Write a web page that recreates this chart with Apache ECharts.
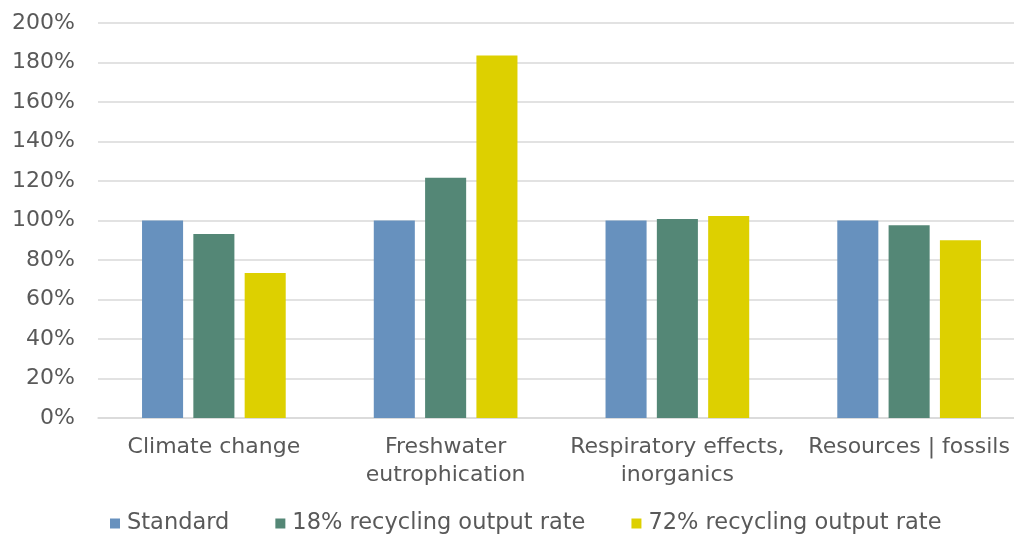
<!DOCTYPE html>
<html>
<head>
<meta charset="utf-8">
<script src="https://cdn.jsdelivr.net/npm/echarts@6/dist/echarts.min.js"></script>
<style>
  html, body { margin: 0; padding: 0; background: #fff; }
  #chart { width: 1014px; height: 535px; }
</style>
</head>
<body>
<div id="chart"></div>
<script>
// Impact categories, relative to the standard scenario (in %)
const categories = ['Climate change', 'Freshwater\neutrophication', 'Respiratory effects,\ninorganics', 'Resources | fossils'];
const seriesNames = ['Standard', '18% recycling output rate', '72% recycling output rate'];
const standard = [100, 100, 100, 100];
const recycling18 = [93.2, 121.7, 100.8, 97.6];
const recycling72 = [73.4, 183.6, 102.3, 90.0];
const colors = ['#6791be', '#548776', '#ddd000'];

const font = '"DejaVu Sans", sans-serif';
const textColor = '#595959';

const chart = echarts.init(document.getElementById('chart'), null, { renderer: 'canvas' });

const dataSets = [standard, recycling18, recycling72];

chart.setOption({
  animation: false,
  color: colors,
  // plot area runs slightly past the right edge of the canvas
  grid: { left: 98, top: 23, width: 927, bottom: 117, containLabel: false, outerBoundsMode: 'none' },
  legend: {
    top: 512,
    left: 110,
    padding: 0,
    itemWidth: 10,
    itemHeight: 10,
    itemGap: 46,
    icon: 'rect',
    textStyle: { fontFamily: font, fontSize: 22.5, color: textColor, padding: [0, 0, 0, 2] },
    data: seriesNames
  },
  xAxis: {
    type: 'category',
    data: categories,
    axisLine: { show: true, lineStyle: { color: '#d9d9d9', width: 1.5 } },
    axisTick: { show: false },
    axisLabel: {
      fontFamily: font, fontSize: 22, color: textColor,
      lineHeight: 28, margin: 15, interval: 0
    }
  },
  yAxis: {
    type: 'value',
    min: 0, max: 200, interval: 20,
    axisLine: { show: false },
    axisTick: { show: false },
    splitLine: { lineStyle: { color: '#d9d9d9', width: 1.5 } },
    axisLabel: {
      fontFamily: font, fontSize: 22, color: textColor, margin: 23,
      formatter: v => v + '%'
    }
  },
  series: seriesNames.map((name, i) => ({
    name: name,
    type: 'bar',
    data: dataSets[i],
    barGap: '25%',
    barCategoryGap: '38%',
    itemStyle: { color: colors[i] }
  }))
});
</script>
</body>
</html>
